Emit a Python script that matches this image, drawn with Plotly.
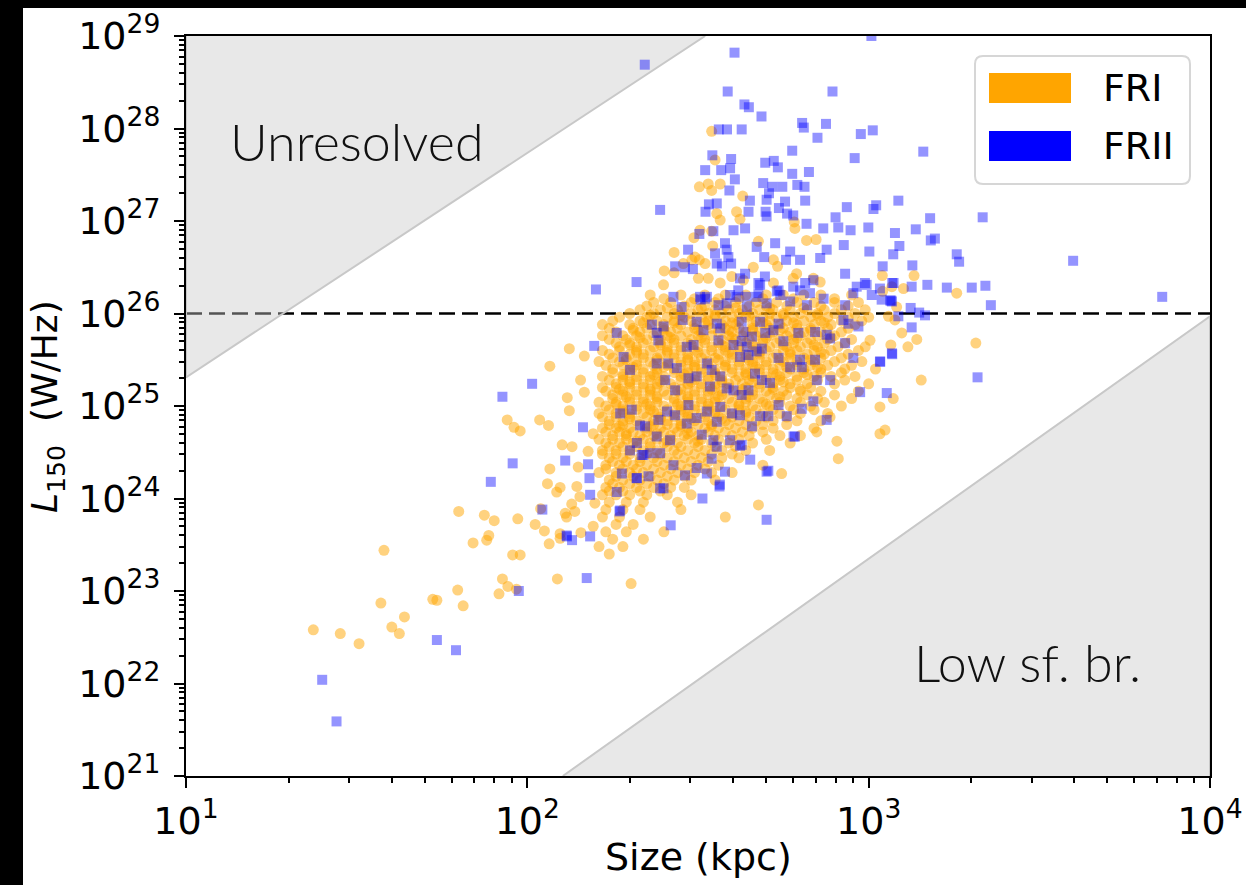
import plotly.graph_objects as go

# ---------------- data (log10 values) ----------------
X_TICK_VALS = [10.0, 100.0, 1000.0, 10000.0]
X_TICK_TEXT = ["10<sup>1</sup>", "10<sup>2</sup>", "10<sup>3</sup>", "10<sup>4</sup>"]
Y_TICK_EXP = [21, 22, 23, 24, 25, 26, 27, 28, 29]

# FRI dense core, rows of constant log10(L150) with log10(size) values
FRI_ROW_LOGL = [26.20, 26.12, 26.04, 25.96, 25.88, 25.80, 25.72, 25.64, 25.56, 25.48,
                25.40, 25.32, 25.24, 25.16, 25.08, 25.00, 24.92, 24.84, 24.76, 24.68,
                24.60, 24.52, 24.44, 24.36, 24.28, 24.20, 24.12, 24.04, 23.96, 23.88,
                23.80, 23.72, 23.64, 23.56, 23.48, 23.40]
FRI_ROW_LOGS = [
    [2.36, 2.45, 2.52, 2.58, 2.64, 2.70, 2.75, 2.81, 2.86, 2.95],
    [2.37, 2.42, 2.48, 2.55, 2.61, 2.67, 2.73, 2.79, 2.84, 2.90, 2.97],
    [2.33, 2.39, 2.44, 2.50, 2.55, 2.59, 2.63, 2.68, 2.72, 2.77, 2.82, 2.87, 2.92, 2.99],
    [2.27, 2.35, 2.41, 2.46, 2.51, 2.55, 2.60, 2.64, 2.69, 2.73, 2.78, 2.83, 2.88, 2.94, 3.00],
    [2.22, 2.30, 2.36, 2.40, 2.45, 2.49, 2.53, 2.57, 2.61, 2.66, 2.70, 2.74, 2.79, 2.84, 2.89, 2.96],
    [2.26, 2.33, 2.38, 2.42, 2.47, 2.51, 2.56, 2.60, 2.64, 2.68, 2.72, 2.77, 2.81, 2.86, 2.92],
    [2.24, 2.29, 2.35, 2.39, 2.43, 2.48, 2.52, 2.57, 2.61, 2.65, 2.69, 2.74, 2.78, 2.83, 2.88, 2.95],
    [2.27, 2.32, 2.37, 2.41, 2.45, 2.50, 2.54, 2.58, 2.62, 2.67, 2.71, 2.76, 2.80, 2.85, 2.91, 2.99],
    [2.24, 2.30, 2.34, 2.39, 2.43, 2.47, 2.52, 2.56, 2.60, 2.64, 2.68, 2.73, 2.77, 2.82, 2.87, 2.94],
    [2.21, 2.27, 2.32, 2.36, 2.41, 2.45, 2.49, 2.53, 2.58, 2.62, 2.66, 2.70, 2.75, 2.79, 2.84, 2.90, 2.98],
    [2.25, 2.30, 2.34, 2.38, 2.43, 2.47, 2.51, 2.55, 2.60, 2.64, 2.68, 2.72, 2.77, 2.81, 2.86, 2.93, 3.02],
    [2.22, 2.28, 2.32, 2.36, 2.40, 2.45, 2.49, 2.53, 2.57, 2.62, 2.66, 2.70, 2.74, 2.79, 2.84, 2.89, 2.96],
    [2.26, 2.30, 2.34, 2.38, 2.42, 2.47, 2.51, 2.55, 2.59, 2.63, 2.68, 2.72, 2.77, 2.82, 2.90, 3.00],
    [2.23, 2.28, 2.32, 2.36, 2.40, 2.44, 2.49, 2.53, 2.57, 2.61, 2.66, 2.70, 2.75, 2.80, 2.86, 2.97],
    [2.25, 2.30, 2.34, 2.38, 2.43, 2.47, 2.51, 2.55, 2.59, 2.64, 2.68, 2.73, 2.79, 2.85, 2.95],
    [2.23, 2.28, 2.32, 2.36, 2.40, 2.45, 2.49, 2.53, 2.57, 2.62, 2.66, 2.71, 2.77, 2.83, 2.92],
    [2.21, 2.26, 2.30, 2.34, 2.38, 2.43, 2.47, 2.51, 2.55, 2.60, 2.64, 2.69, 2.74, 2.80, 2.88],
    [2.24, 2.28, 2.32, 2.37, 2.41, 2.45, 2.49, 2.53, 2.58, 2.62, 2.67, 2.72, 2.79, 2.86],
    [2.22, 2.26, 2.30, 2.35, 2.39, 2.43, 2.47, 2.52, 2.56, 2.61, 2.66, 2.72, 2.84],
    [2.25, 2.29, 2.33, 2.37, 2.42, 2.46, 2.50, 2.55, 2.60, 2.65, 2.74, 2.80],
    [2.23, 2.27, 2.31, 2.36, 2.40, 2.44, 2.49, 2.54, 2.59, 2.66, 2.77],
    [2.22, 2.26, 2.30, 2.34, 2.38, 2.43, 2.47, 2.52, 2.57, 2.64, 2.71],
    [2.24, 2.28, 2.33, 2.37, 2.41, 2.46, 2.51, 2.57, 2.62],
    [2.23, 2.27, 2.31, 2.35, 2.40, 2.45, 2.50, 2.56, 2.69],
    [2.21, 2.26, 2.30, 2.34, 2.39, 2.44, 2.49, 2.54, 2.60],
    [2.24, 2.28, 2.33, 2.38, 2.43, 2.48, 2.55],
    [2.23, 2.27, 2.32, 2.37, 2.42, 2.46],
    [2.22, 2.26, 2.30, 2.35, 2.41, 2.48],
    [2.24, 2.29, 2.34, 2.44],
    [2.23, 2.28, 2.33, 2.45],
    [2.22, 2.27, 2.36, 2.58],
    [2.26, 2.31],
    [2.23, 2.29, 2.40],
    [2.25, 2.34],
    [2.21, 2.28],
    [2.24],
]

# FRI dense core, in-between rows
FRI_ROW2_LOGL = [26.16, 26.08, 26.00, 25.92, 25.84, 25.76, 25.68, 25.60, 25.52, 25.44,
                 25.36, 25.28, 25.20, 25.12, 25.04, 24.96, 24.88, 24.80, 24.72, 24.64,
                 24.56, 24.48, 24.40, 24.32, 24.24, 24.16, 24.08]
FRI_ROW2_LOGS = [
    [2.40, 2.49, 2.56, 2.62, 2.69, 2.78, 2.90],
    [2.35, 2.46, 2.52, 2.58, 2.65, 2.70, 2.76, 2.86, 2.94],
    [2.30, 2.37, 2.43, 2.48, 2.53, 2.57, 2.62, 2.66, 2.71, 2.75, 2.80, 2.85, 2.90, 2.96],
    [2.25, 2.33, 2.38, 2.43, 2.48, 2.53, 2.58, 2.62, 2.67, 2.71, 2.76, 2.81, 2.86, 2.92, 2.98],
    [2.24, 2.31, 2.35, 2.40, 2.44, 2.49, 2.54, 2.58, 2.62, 2.66, 2.71, 2.75, 2.79, 2.83, 2.88, 2.94],
    [2.22, 2.28, 2.32, 2.37, 2.41, 2.45, 2.50, 2.54, 2.59, 2.63, 2.67, 2.71, 2.76, 2.80, 2.85, 2.90],
    [2.26, 2.30, 2.34, 2.39, 2.43, 2.47, 2.52, 2.56, 2.60, 2.64, 2.69, 2.73, 2.78, 2.82, 2.87, 2.93],
    [2.22, 2.27, 2.32, 2.36, 2.41, 2.45, 2.49, 2.54, 2.58, 2.62, 2.66, 2.70, 2.75, 2.79, 2.84, 2.89, 2.97],
    [2.25, 2.29, 2.34, 2.38, 2.43, 2.47, 2.51, 2.55, 2.60, 2.64, 2.68, 2.72, 2.77, 2.81, 2.86, 2.92],
    [2.23, 2.28, 2.32, 2.37, 2.41, 2.45, 2.49, 2.53, 2.58, 2.62, 2.66, 2.70, 2.74, 2.79, 2.83, 2.88, 2.95],
    [2.25, 2.30, 2.34, 2.38, 2.43, 2.47, 2.51, 2.55, 2.60, 2.64, 2.68, 2.72, 2.76, 2.81, 2.86, 2.92],
    [2.24, 2.28, 2.32, 2.36, 2.40, 2.45, 2.49, 2.53, 2.57, 2.61, 2.65, 2.70, 2.74, 2.79, 2.85, 2.93],
    [2.22, 2.26, 2.30, 2.34, 2.38, 2.43, 2.47, 2.51, 2.55, 2.59, 2.64, 2.68, 2.72, 2.77, 2.83],
    [2.25, 2.28, 2.32, 2.36, 2.41, 2.45, 2.49, 2.53, 2.57, 2.62, 2.66, 2.71, 2.76, 2.82, 2.90],
    [2.21, 2.26, 2.30, 2.34, 2.38, 2.43, 2.47, 2.51, 2.55, 2.60, 2.64, 2.69, 2.74, 2.80, 2.87],
    [2.24, 2.28, 2.32, 2.36, 2.41, 2.45, 2.49, 2.53, 2.58, 2.62, 2.67, 2.72, 2.78, 2.84],
    [2.22, 2.26, 2.30, 2.35, 2.39, 2.43, 2.47, 2.52, 2.56, 2.60, 2.65, 2.70, 2.76],
    [2.24, 2.28, 2.33, 2.37, 2.41, 2.45, 2.50, 2.54, 2.59, 2.64, 2.69, 2.76],
    [2.23, 2.27, 2.31, 2.35, 2.40, 2.44, 2.48, 2.53, 2.58, 2.63, 2.69],
    [2.21, 2.25, 2.29, 2.34, 2.38, 2.42, 2.47, 2.51, 2.56, 2.62, 2.70],
    [2.24, 2.28, 2.32, 2.36, 2.41, 2.45, 2.50, 2.55, 2.61],
    [2.22, 2.26, 2.30, 2.35, 2.39, 2.44, 2.49, 2.54, 2.60],
    [2.25, 2.29, 2.33, 2.38, 2.43, 2.48, 2.53],
    [2.23, 2.28, 2.32, 2.37, 2.42, 2.47, 2.52],
    [2.26, 2.31, 2.36, 2.41, 2.46],
    [2.25, 2.30, 2.35, 2.40],
    [2.24, 2.28, 2.33, 2.39],
]

# FRI innermost core, third set of rows
FRI_ROW3_LOGL = [26.06, 25.98, 25.90, 25.82, 25.74, 25.66, 25.58, 25.50, 25.42, 25.34,
                 25.26, 25.18, 25.10, 25.02, 24.94, 24.86, 24.78, 24.70, 24.62]
FRI_ROW3_LOGS = [
    [2.41, 2.51, 2.61, 2.71, 2.81],
    [2.36, 2.45, 2.55, 2.65, 2.75, 2.85],
    [2.34, 2.43, 2.52, 2.60, 2.69, 2.78, 2.87],
    [2.31, 2.40, 2.50, 2.59, 2.66, 2.74, 2.83],
    [2.33, 2.42, 2.51, 2.60, 2.70, 2.79, 2.89],
    [2.30, 2.39, 2.48, 2.57, 2.66, 2.75, 2.84],
    [2.32, 2.41, 2.50, 2.59, 2.68, 2.77, 2.86],
    [2.29, 2.38, 2.47, 2.56, 2.65, 2.74, 2.83],
    [2.31, 2.40, 2.49, 2.58, 2.67, 2.76, 2.85],
    [2.28, 2.37, 2.46, 2.55, 2.64, 2.73, 2.82],
    [2.30, 2.39, 2.48, 2.57, 2.66, 2.75],
    [2.27, 2.36, 2.45, 2.54, 2.63, 2.72, 2.80],
    [2.29, 2.38, 2.47, 2.56, 2.65, 2.74],
    [2.26, 2.35, 2.44, 2.53, 2.62, 2.70],
    [2.28, 2.37, 2.46, 2.55, 2.64],
    [2.30, 2.39, 2.48, 2.57],
    [2.27, 2.36, 2.45, 2.54],
    [2.29, 2.38, 2.47],
    [2.32, 2.41, 2.50],
]

# FRI isolated points: (log10 size [kpc], log10 L150 [W/Hz])
FRI_SPARSE = [
    (1.373, 22.58), (1.452, 22.54), (1.507, 22.43), (1.571, 22.87), (1.580, 23.44), (1.603, 22.61),
    (1.625, 22.54), (1.640, 22.72), (1.723, 22.91), (1.735, 22.90), (1.796, 23.01), (1.812, 22.84),
    (1.799, 23.86), (1.841, 23.52), (1.874, 23.82), (1.881, 23.55), (1.887, 23.60), (1.903, 23.76),
    (1.917, 22.97), (1.927, 23.13), (1.943, 23.05), (1.957, 23.39), (1.979, 23.39), (1.972, 23.78),
    (1.968, 23.02), (1.941, 24.85), (1.961, 24.77), (1.979, 24.73), (2.023, 23.72), (2.050, 23.65),
    (2.064, 23.51), (2.039, 23.89), (2.036, 24.85), (2.062, 24.79), (2.066, 25.43), (2.123, 25.62),
    (2.167, 25.54), (2.156, 25.28), (2.167, 25.15), (2.117, 25.09), (2.123, 24.95), (2.102, 24.58),
    (2.131, 24.56), (2.066, 24.32), (2.059, 24.16), (2.086, 24.07), (2.096, 24.12), (2.088, 23.13),
    (2.111, 23.84), (2.115, 23.80), (2.139, 23.86), (2.130, 23.94), (2.096, 23.62), (2.096, 23.57),
    (2.157, 23.63), (2.145, 24.13), (2.149, 24.34), (2.178, 24.51), (2.193, 24.70), (2.198, 23.95),
    (2.193, 23.70), (2.154, 24.02), (2.304, 23.08),
    (2.540, 27.97), (2.550, 27.66), (2.504, 27.37), (2.530, 27.40), (2.540, 27.33), (2.565, 27.40),
    (2.631, 27.27), (2.555, 27.08), (2.613, 27.10), (2.623, 27.02), (2.565, 27.01), (2.818, 26.79),
    (2.846, 26.80), (2.782, 26.99), (2.677, 26.78), (2.721, 26.58), (2.733, 26.51), (2.430, 26.66),
    (2.401, 26.46), (2.430, 26.44), (2.399, 26.31), (2.488, 26.82), (2.540, 26.89), (2.543, 26.73),
    (2.457, 26.54), (2.482, 26.58), (2.504, 26.58), (2.521, 26.54), (2.501, 26.38), (2.530, 26.38),
    (2.565, 26.33), (2.599, 26.40), (2.662, 26.50), (2.721, 26.33), (2.779, 26.38), (2.838, 26.38),
    (2.784, 26.92), (2.789, 26.43), (2.858, 26.34), (2.633, 26.36), (2.491, 26.61), (2.506, 26.90),
    (3.082, 26.07), (3.068, 26.29),
    (3.040, 26.41), (3.133, 26.41), (3.102, 26.27), (3.258, 26.22), (3.041, 26.24), (3.058, 25.97),
    (3.077, 25.93), (3.097, 25.79), (3.141, 25.72), (3.065, 25.66), (3.115, 25.64), (3.314, 25.68),
    (3.154, 25.28), (3.072, 25.08), (3.048, 24.74), (3.033, 24.70), (3.033, 24.99), (3.004, 25.71),
    (2.911, 24.43), (2.907, 24.62), (2.848, 24.72), (2.887, 24.88), (2.677, 23.93), (2.745, 24.27),
]

# FRII points: (log10 size [kpc], log10 L150 [W/Hz])
FRII_POINTS = [
    (1.399, 22.04), (1.441, 21.59), (1.735, 22.47), (1.791, 22.36), (1.893, 24.18), (1.927, 25.10),
    (1.957, 24.38), (2.014, 25.24), (1.975, 23.00), (2.044, 23.88), (2.111, 24.41), (2.163, 24.77),
    (2.174, 23.14), (2.115, 23.60), (2.131, 23.55), (2.184, 23.59), (2.184, 24.04), (2.182, 24.22),
    (2.178, 24.37), (2.196, 25.65), (2.262, 24.07), (2.320, 24.22), (2.340, 24.47), (2.270, 23.86),
    (2.420, 23.71), (2.513, 24.00), (2.701, 23.77), (2.564, 24.15), (2.623, 24.57), (2.784, 24.67),
    (2.701, 24.29), (2.116, 23.59),
    (2.428, 26.18), (2.508, 26.15), (2.521, 26.16), (2.594, 26.20), (2.618, 26.25), (2.643, 26.18),
    (2.677, 26.22), (2.682, 26.31), (2.736, 26.25), (2.741, 26.20), (2.770, 26.13), (2.799, 26.25),
    (2.819, 26.09), (2.828, 26.22), (2.868, 26.16), (2.931, 26.09), (2.965, 26.29), (2.994, 26.31),
    (3.009, 26.20), (3.038, 26.15), (3.068, 26.13), (3.073, 26.33),
    (2.365, 25.88), (2.399, 25.86), (2.262, 25.79), (2.379, 25.79), (2.384, 25.71), (2.455, 25.93),
    (2.496, 25.91), (2.516, 25.82), (2.555, 25.89), (2.565, 25.84), (2.560, 25.71), (2.628, 25.91),
    (2.633, 25.80), (2.658, 25.75), (2.628, 25.70), (2.682, 25.91), (2.697, 25.79), (2.687, 25.62),
    (2.721, 25.82), (2.736, 25.89), (2.750, 25.70), (2.736, 25.52), (2.794, 25.79), (2.843, 25.80),
    (2.877, 25.77), (2.887, 25.73), (2.931, 25.68), (2.955, 25.52), (3.034, 25.48), (3.068, 25.57),
    (2.941, 25.89), (2.970, 25.86), (2.926, 25.93),
    (2.604, 25.66), (2.643, 25.64), (2.672, 25.59), (2.623, 25.53), (2.648, 25.55), (2.467, 25.64),
    (2.487, 25.66), (2.282, 25.53), (2.301, 25.39), (2.379, 25.46), (2.413, 25.46), (2.438, 25.41),
    (2.404, 25.28), (2.433, 25.17), (2.472, 25.30), (2.496, 25.32), (2.526, 25.46), (2.540, 25.39),
    (2.535, 25.21), (2.565, 25.32), (2.584, 25.19), (2.604, 25.17), (2.628, 25.12), (2.648, 25.17),
    (2.667, 25.35), (2.687, 25.28), (2.711, 25.25), (2.770, 25.42), (2.799, 25.50), (2.804, 25.42),
    (2.843, 25.50), (2.848, 25.28), (2.887, 25.28), (2.975, 25.15), (3.053, 25.14),
    (2.272, 24.92), (2.306, 24.96), (2.330, 24.79), (2.345, 24.78), (2.384, 24.85), (2.409, 24.94),
    (2.433, 24.90), (2.472, 25.01), (2.496, 24.87), (2.526, 24.94), (2.555, 24.83), (2.565, 24.99),
    (2.599, 24.92), (2.623, 24.90), (2.658, 24.78), (2.682, 24.89), (2.706, 24.89), (2.736, 25.01),
    (2.760, 24.89), (2.780, 24.67), (2.804, 24.97), (2.838, 25.05), (2.877, 24.85),
    (2.301, 24.52), (2.321, 24.60), (2.335, 24.47), (2.360, 24.49), (2.379, 24.67), (2.389, 24.49),
    (2.418, 24.63), (2.467, 24.81), (2.511, 24.69), (2.545, 24.63), (2.555, 24.56), (2.594, 24.63),
    (2.628, 24.58), (2.653, 24.42), (2.540, 24.43), (2.496, 24.33), (2.462, 24.25), (2.526, 24.27),
    (2.579, 24.29), (2.706, 24.30), (2.355, 24.24), (2.321, 24.22), (2.389, 24.11), (2.399, 24.11),
    (2.428, 24.36), (2.277, 24.27), (2.272, 23.87), (2.563, 24.13),
    (2.607, 28.82), (2.344, 28.69), (2.587, 28.40), (2.636, 28.26), (2.649, 28.23), (2.686, 28.13),
    (2.894, 28.40), (2.805, 28.06), (2.810, 28.01), (2.875, 28.05), (2.850, 27.90), (2.977, 27.94),
    (3.012, 27.98), (3.160, 27.75), (2.959, 27.68), (2.776, 27.76), (3.008, 29.00), (2.561, 27.99),
    (2.585, 27.99), (2.628, 27.99), (2.542, 27.71), (2.597, 27.67), (2.521, 27.55), (2.568, 27.55),
    (2.594, 27.57), (2.608, 27.45), (2.697, 27.63), (2.722, 27.65), (2.734, 27.58), (2.776, 27.51),
    (2.825, 27.53), (2.691, 27.41), (2.718, 27.37), (2.747, 27.37), (2.791, 27.39), (2.812, 27.37),
    (2.592, 27.33), (2.708, 27.30), (2.701, 27.23), (2.652, 27.22), (2.648, 27.10), (2.755, 27.21),
    (2.737, 27.14), (2.814, 27.22), (2.532, 27.18), (2.555, 27.19), (2.522, 27.10), (2.389, 27.12),
    (2.698, 27.10), (2.701, 27.05), (2.761, 27.08), (2.779, 27.06), (2.818, 26.97), (2.867, 26.92),
    (2.911, 26.93), (2.947, 26.90), (2.999, 26.93), (2.936, 27.15), (3.014, 27.13), (3.022, 27.17),
    (3.087, 27.22), (2.903, 27.04), (3.180, 27.03), (3.334, 27.04), (3.138, 26.91), (3.077, 26.87),
    (3.194, 26.81), (3.182, 26.79), (3.090, 26.73), (3.072, 26.64), (3.002, 26.67), (2.927, 26.74),
    (2.877, 26.69), (2.858, 26.60), (3.258, 26.64), (3.265, 26.56), (3.128, 26.52), (3.041, 26.51),
    (2.931, 26.43), (3.172, 26.31), (3.229, 26.28), (3.302, 26.28), (3.342, 26.30), (3.069, 26.33),
    (3.126, 26.29), (2.672, 26.72), (2.694, 26.61), (2.726, 26.76), (2.770, 26.67), (2.799, 26.58),
    (2.758, 26.58), (2.320, 26.34), (2.201, 26.26), (2.471, 26.69), (2.504, 26.86), (2.545, 26.89),
    (2.579, 26.76), (2.604, 26.90), (2.638, 26.92), (2.584, 26.69), (2.550, 26.65), (2.589, 26.61),
    (2.597, 26.54), (2.433, 26.51), (2.462, 26.50), (2.485, 26.48), (2.555, 26.54), (2.570, 26.51),
    (2.638, 26.43), (2.623, 26.38), (2.677, 26.33), (2.696, 26.40), (2.731, 26.24), (2.779, 26.29),
    (2.814, 26.33), (2.838, 26.36), (2.955, 26.22), (2.989, 26.33), (3.033, 26.27), (3.063, 26.14),
    (2.452, 26.07), (2.506, 26.18), (2.526, 26.18), (2.560, 26.09), (2.584, 26.11), (2.613, 26.18),
    (2.643, 26.07), (2.672, 26.18), (2.701, 26.11),
    (3.599, 26.57), (3.860, 26.18), (3.358, 26.09), (3.066, 26.14), (3.123, 26.06), (3.148, 26.01),
    (3.165, 25.98), (3.087, 25.97), (3.126, 25.85), (3.069, 25.56), (3.033, 25.48), (3.319, 25.31),
]

# shaded regions (log10 size, log10 L150)
UNRESOLVED_LOGS = [1.0, 1.0, 2.521]
UNRESOLVED_LOGL = [29.0, 25.31, 29.0]
LOWSB_LOGS = [2.104, 4.0, 4.0]
LOWSB_LOGL = [21.0, 25.97, 21.0]
L_CUT = 1e26

# ---------------- build ----------------
fri_x, fri_y = [], []
for rows_l, rows_s in [(FRI_ROW_LOGL, FRI_ROW_LOGS), (FRI_ROW2_LOGL, FRI_ROW2_LOGS),
                       (FRI_ROW3_LOGL, FRI_ROW3_LOGS)]:
    for logl, row in zip(rows_l, rows_s):
        for logs in row:
            fri_x.append(10.0 ** logs)
            fri_y.append(10.0 ** logl)
for logs, logl in FRI_SPARSE:
    fri_x.append(10.0 ** logs)
    fri_y.append(10.0 ** logl)
frii_x = [10.0 ** p[0] for p in FRII_POINTS]
frii_y = [10.0 ** p[1] for p in FRII_POINTS]

FONT = "DejaVu Sans"
fig = go.Figure()

fig.add_trace(go.Scatter(x=[10.0, 1e4], y=[L_CUT, L_CUT], mode="lines",
                         line=dict(color="black", width=2.5, dash="16px,7px"),
                         hoverinfo="skip", showlegend=False))
for lx, ly in [(UNRESOLVED_LOGS, UNRESOLVED_LOGL), (LOWSB_LOGS, LOWSB_LOGL)]:
    fig.add_trace(go.Scatter(x=[10.0 ** v for v in lx], y=[10.0 ** v for v in ly],
                             mode="lines", fill="toself",
                             fillcolor="rgba(200,200,200,0.42)",
                             line=dict(color="rgba(200,200,200,1)", width=2),
                             hoverinfo="skip", showlegend=False))

fig.add_trace(go.Scatter(x=fri_x, y=fri_y, mode="markers", name="FRI",
                         marker=dict(symbol="circle", size=11, color="rgba(255,165,0,0.5)",
                                     line=dict(width=0)), showlegend=False))
fig.add_trace(go.Scatter(x=frii_x, y=frii_y, mode="markers", name="FRII",
                         marker=dict(symbol="square", size=10, color="rgba(0,0,255,0.42)",
                                     line=dict(width=0)), showlegend=False))

W, H = 1246, 885
ML, MR, MT, MB = 186, 36, 36, 109
PW, PH = W - ML - MR, H - MT - MB


def px(xp):
    return (xp - ML) / PW


def py(yp):
    return (H - MB - yp) / PH


axis_common = dict(type="log", showgrid=False, zeroline=False, showline=True,
                   linecolor="black", linewidth=2, mirror=True, automargin=False,
                   ticks="outside", ticklen=10, tickwidth=2, tickcolor="black",
                   tickfont=dict(family=FONT, size=38, color="black"),
                   minor=dict(ticks="outside", ticklen=5, tickwidth=1.5,
                              tickcolor="black", dtick="D1", showgrid=False))

fig.update_xaxes(range=[1, 4], tickvals=X_TICK_VALS, ticktext=X_TICK_TEXT, **axis_common)
fig.update_yaxes(range=[21, 29], tickvals=[10.0 ** e for e in Y_TICK_EXP],
                 ticktext=["10<sup>%d</sup>" % e for e in Y_TICK_EXP],
                 ticklabelstandoff=6, **axis_common)

shapes = []
# black framing strips
shapes.append(dict(type="rect", xref="paper", yref="paper", x0=px(0), x1=px(23),
                   y0=py(H), y1=py(0), fillcolor="black", line=dict(width=0), layer="above"))
shapes.append(dict(type="rect", xref="paper", yref="paper", x0=px(0), x1=px(W),
                   y0=py(8), y1=py(0), fillcolor="black", line=dict(width=0), layer="above"))
# legend box (rounded)
x0, x1, y0, y1 = px(975), px(1190), py(184), py(56)
rx, ry = 8 / PW, 8 / PH
path = (f"M {x0+rx},{y1} L {x1-rx},{y1} Q {x1},{y1} {x1},{y1-ry} L {x1},{y0+ry} "
        f"Q {x1},{y0} {x1-rx},{y0} L {x0+rx},{y0} Q {x0},{y0} {x0},{y0+ry} "
        f"L {x0},{y1-ry} Q {x0},{y1} {x0+rx},{y1} Z")
shapes.append(dict(type="path", xref="paper", yref="paper", path=path,
                   fillcolor="white", line=dict(color="#d6d6d6", width=2), layer="above"))
shapes.append(dict(type="rect", xref="paper", yref="paper", x0=px(989), x1=px(1071),
                   y0=py(103), y1=py(73), fillcolor="#FFA500", line=dict(width=0), layer="above"))
shapes.append(dict(type="rect", xref="paper", yref="paper", x0=px(989), x1=px(1071),
                   y0=py(161), y1=py(131), fillcolor="#0000FF", line=dict(width=0), layer="above"))

annotations = [
    dict(text="FRI", x=px(1101), y=py(88), xref="paper", yref="paper", xanchor="left",
         yanchor="middle", showarrow=False, font=dict(family=FONT, size=38, color="black")),
    dict(text="FRII", x=px(1101), y=py(146), xref="paper", yref="paper", xanchor="left",
         yanchor="middle", showarrow=False, font=dict(family=FONT, size=38, color="black")),
    dict(text="Unresolved", x=px(228), y=py(141), xref="paper", yref="paper", xanchor="left",
         yanchor="middle", showarrow=False,
         font=dict(family="Lato", size=52, color="#111111", weight=300)),
    dict(text="Low sf. br.", x=px(912), y=py(662), xref="paper", yref="paper", xanchor="left",
         yanchor="middle", showarrow=False,
         font=dict(family="Lato", size=52, color="#111111", weight=300)),
    dict(text="Size (kpc)", x=0.5, y=py(857), xref="paper", yref="paper", xanchor="center",
         yanchor="middle", showarrow=False, font=dict(family=FONT, size=38, color="black")),
    dict(text="<i>L</i><sub>150</sub>  (W/Hz)", x=px(47), y=py(407), xref="paper", yref="paper",
         xanchor="center", yanchor="middle", textangle=-90, showarrow=False,
         font=dict(family=FONT, size=36, color="black")),
]

fig.update_layout(width=W, height=H, margin=dict(l=ML, r=MR, t=MT, b=MB, pad=0),
                  paper_bgcolor="white", plot_bgcolor="white",
                  shapes=shapes, annotations=annotations, showlegend=False)

fig.write_html("out.html")
